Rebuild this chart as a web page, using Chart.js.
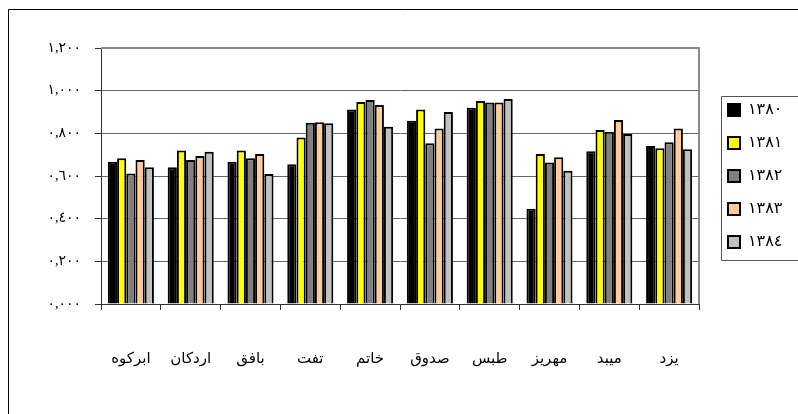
<!DOCTYPE html>
<html>
<head>
<meta charset="utf-8">
<script src="https://cdn.jsdelivr.net/npm/chart.js@4"></script>
<style>
  html, body { margin: 0; padding: 0; background: #fff; }
  #wrap { position: relative; width: 798px; height: 414px; }
</style>
</head>
<body>
<div id="wrap"><canvas id="chart"></canvas></div>
<script>
// ---- data ----
const towns = ['ابركوه', 'اردكان', 'بافق', 'تفت', 'خاتم', 'صدوق', 'طبس', 'مهريز', 'ميبد', 'يزد'];
const years = ['١٣٨٠', '١٣٨١', '١٣٨٢', '١٣٨٣', '١٣٨٤'];

const v1380 = [0.667, 0.641, 0.667, 0.655, 0.912, 0.859, 0.920, 0.447, 0.716, 0.741];
const v1381 = [0.683, 0.719, 0.720, 0.780, 0.947, 0.912, 0.952, 0.703, 0.816, 0.730];
const v1382 = [0.612, 0.675, 0.683, 0.850, 0.956, 0.753, 0.945, 0.663, 0.808, 0.758];
const v1383 = [0.675, 0.694, 0.703, 0.852, 0.933, 0.823, 0.944, 0.688, 0.863, 0.823];
const v1384 = [0.641, 0.714, 0.609, 0.847, 0.831, 0.900, 0.961, 0.625, 0.797, 0.725];

const series = [v1380, v1381, v1382, v1383, v1384];
const fills = ['#000000', '#ffff00', '#808080', '#ffcc99', '#c0c0c0'];

const FONT = "'Liberation Serif', 'DejaVu Sans', serif";

// 0.8 -> "٠,٨٠٠"
function arabicNum(v) {
    const s = v.toFixed(3).replace('.', ',');
    return s.replace(/[0-9]/g, d => String.fromCharCode(0x660 + Number(d)));
}

// outer frame, plot border and legend box
const decor = {
    id: 'decor',
    beforeDatasetsDraw(chart) {
        const { ctx, chartArea: a } = chart;
        ctx.save();
        ctx.strokeStyle = '#8c8c8c';
        ctx.lineWidth = 2;
        ctx.beginPath();
        ctx.moveTo(a.left, a.top);
        ctx.lineTo(a.right, a.top);
        ctx.lineTo(a.right, a.bottom);
        ctx.stroke();
        ctx.restore();
    },
    afterDraw(chart) {
        const { ctx } = chart;
        ctx.save();
        ctx.strokeStyle = '#000';
        ctx.lineWidth = 1;
        ctx.beginPath();
        ctx.moveTo(8.5, 420);
        ctx.lineTo(8.5, 9.5);
        ctx.lineTo(800, 9.5);
        ctx.stroke();

        const lg = chart.legend;
        if (lg && lg.legendHitBoxes && lg.legendHitBoxes.length) {
            const hb = lg.legendHitBoxes;
            const top = Math.round(hb[0].top - 6) + 0.5;
            const bottom = Math.round(hb[hb.length - 1].top + hb[hb.length - 1].height + 10) + 0.5;
            const left = Math.round(hb[0].left - 7) + 0.5;
            ctx.strokeStyle = '#555';
            ctx.beginPath();
            ctx.moveTo(810, top);
            ctx.lineTo(left, top);
            ctx.lineTo(left, bottom);
            ctx.lineTo(810, bottom);
            ctx.stroke();
        }
        ctx.restore();
    }
};

new Chart(document.getElementById('chart'), {
    type: 'bar',
    data: {
        labels: towns,
        datasets: series.map((vals, i) => ({
            label: years[i],
            data: vals,
            backgroundColor: fills[i],
            borderColor: '#000',
            borderWidth: 2,
            borderSkipped: 'bottom',
            categoryPercentage: 0.77,
            barPercentage: 1.0
        }))
    },
    options: {
        responsive: true,
        maintainAspectRatio: false,
        animation: false,
        devicePixelRatio: 1,
        layout: { padding: { left: 0, top: 48, right: 10, bottom: 30 } },
        plugins: {
            legend: {
                position: 'right',
                fullSize: false,
                maxWidth: 77,
                labels: {
                    boxWidth: 12,
                    boxHeight: 12,
                    padding: 17,
                    color: '#000',
                    font: { family: FONT, size: 16 }
                }
            },
            tooltip: { enabled: false }
        },
        scales: {
            x: {
                grid: {
                    offset: true,
                    drawOnChartArea: false,
                    drawTicks: true,
                    tickLength: 6,
                    tickColor: '#333',
                    tickWidth: 1
                },
                border: { display: true, color: '#333', width: 1 },
                ticks: {
                    color: '#000',
                    padding: 40,
                    maxRotation: 0,
                    font: { family: FONT, size: 15 }
                },
                afterFit(scale) { scale.height = 80; }
            },
            y: {
                min: 0,
                max: 1.2,
                ticks: {
                    stepSize: 0.2,
                    color: '#000',
                    padding: 14,
                    font: { family: FONT, size: 14 },
                    callback: v => arabicNum(v)
                },
                grid: {
                    color: '#666',
                    borderDash: [2, 1],
                    tickLength: 6,
                    tickColor: '#333',
                    tickBorderDash: [],
                    lineWidth: 1
                },
                border: { display: true, color: '#333', width: 1 },
                afterFit(scale) { scale.width = 101; }
            },
            pad: {
                type: 'linear',
                position: 'right',
                display: true,
                grid: { display: false },
                ticks: { display: false },
                border: { display: false },
                afterFit(scale) { scale.width = 12; }
            }
        }
    },
    plugins: [decor]
});
</script>
</body>
</html>
